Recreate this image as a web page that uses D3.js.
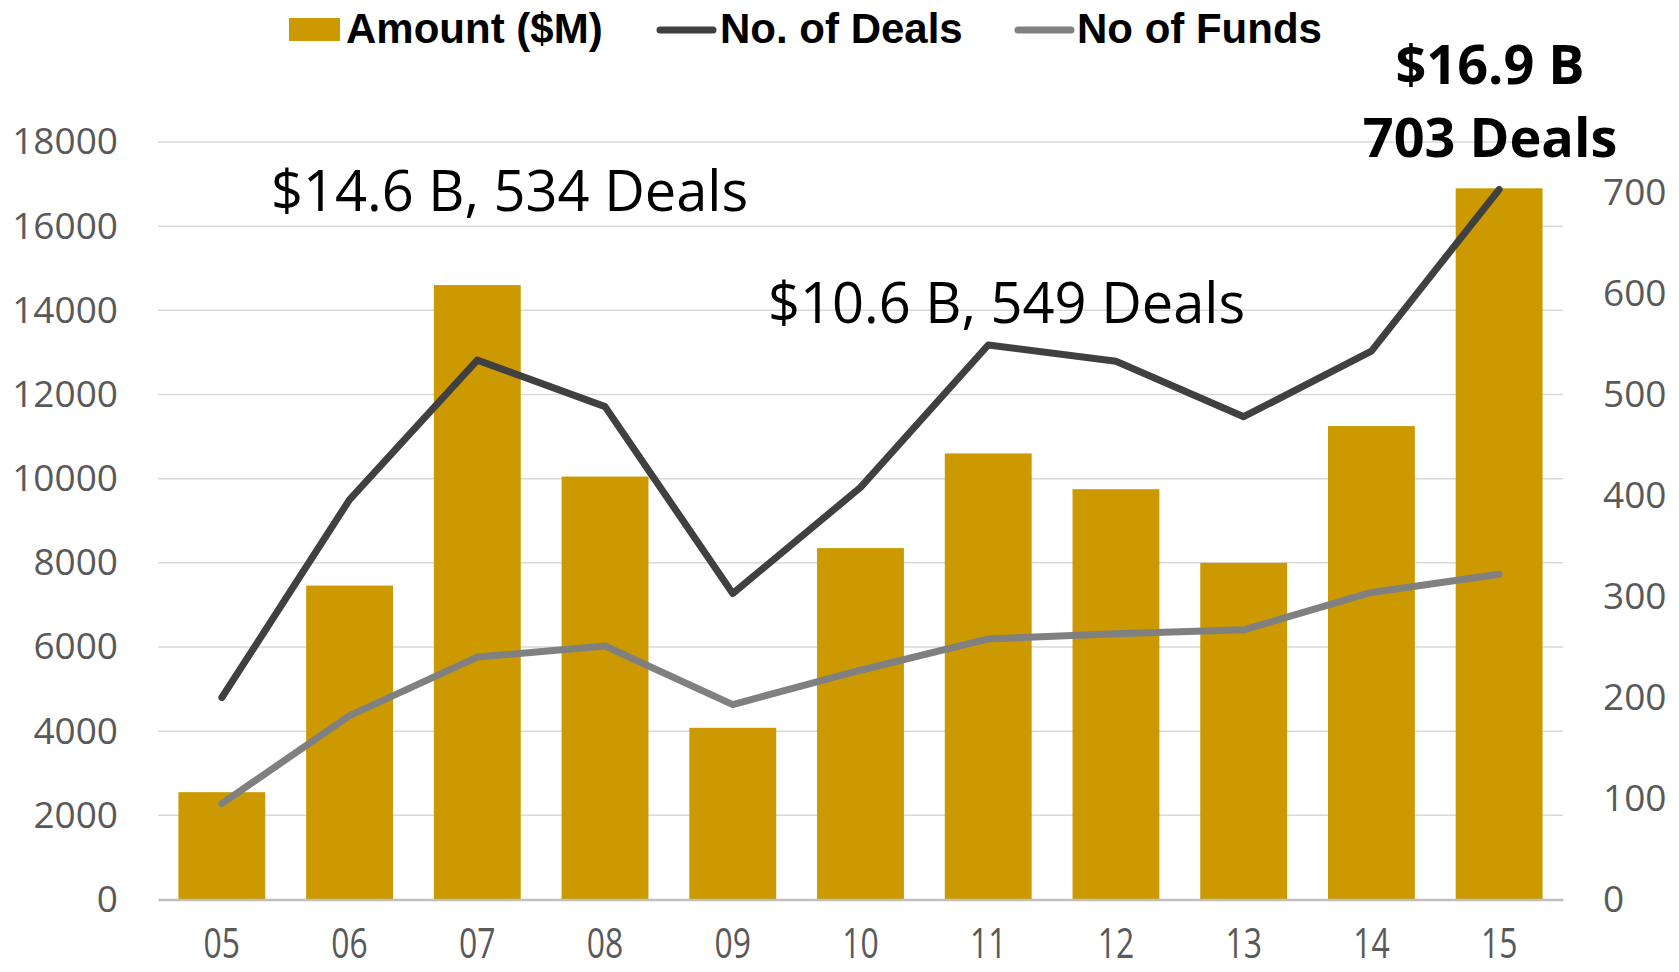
<!DOCTYPE html>
<html>
<head>
<meta charset="utf-8">
<script src="https://cdn.jsdelivr.net/npm/d3@7"></script>
<style>
  body { margin: 0; background: #fff; }
  svg { display: block; }
</style>
</head>
<body>
<div id="chart"></div>
<script>
// Data
var years = ["05", "06", "07", "08", "09", "10", "11", "12", "13", "14", "15"];
var amounts = [2550, 7460, 14600, 10050, 4080, 8350, 10600, 9750, 8000, 11250, 16900];
var deals = [200, 396, 534, 488, 303, 408, 549, 533, 478, 543, 703];
var funds = [95, 182, 240, 251, 193, 227, 258, 263, 267, 304, 322];
var leftTicks = [0, 2000, 4000, 6000, 8000, 10000, 12000, 14000, 16000, 18000];
var rightTicks = [0, 100, 200, 300, 400, 500, 600, 700];

var width = 1679, height = 972;
var plotLeft = 158, plotRight = 1563, plotTop = 142, plotBottom = 899.5;

var svg = d3.select("#chart").append("svg")
    .attr("width", width)
    .attr("height", height);

var x = d3.scaleBand()
    .domain(years)
    .range([plotLeft, plotRight])
    .paddingInner(0.32)
    .paddingOuter(0.16);

var yLeft = d3.scaleLinear().domain([0, 18000]).range([plotBottom, plotTop]);
var yRight = d3.scaleLinear().domain([0, 750]).range([plotBottom, plotTop]);

// gridlines
svg.append("g")
    .selectAll("line")
    .data(leftTicks.slice(1))
    .enter().append("line")
    .attr("x1", plotLeft).attr("x2", plotRight)
    .attr("y1", function (d) { return yLeft(d); })
    .attr("y2", function (d) { return yLeft(d); })
    .attr("stroke", "#d9d9d9")
    .attr("stroke-width", 1.5);

// left axis
var leftAxis = svg.append("g")
    .attr("transform", "translate(" + plotLeft + ",0)")
    .call(d3.axisLeft(yLeft).tickValues(leftTicks).tickFormat(d3.format("d")).tickSize(0).tickPadding(40));
leftAxis.select(".domain").remove();
leftAxis.selectAll("text")
    .attr("font-family", "'Open Sans', sans-serif")
    .attr("font-size", 37)
    .attr("fill", "#595959");

// right axis
var rightAxis = svg.append("g")
    .attr("transform", "translate(" + plotRight + ",0)")
    .call(d3.axisRight(yRight).tickValues(rightTicks).tickSize(0).tickPadding(40));
rightAxis.select(".domain").remove();
rightAxis.selectAll("text")
    .attr("font-family", "'Open Sans', sans-serif")
    .attr("font-size", 37)
    .attr("fill", "#595959");

// bars
svg.append("g")
    .selectAll("rect")
    .data(years)
    .enter().append("rect")
    .attr("x", function (d) { return x(d); })
    .attr("y", function (d, i) { return yLeft(amounts[i]); })
    .attr("width", x.bandwidth())
    .attr("height", function (d, i) { return plotBottom - yLeft(amounts[i]); })
    .attr("fill", "#cc9a00");

// bottom axis, narrow labels like the original
var bottomAxis = svg.append("g")
    .attr("transform", "translate(0," + plotBottom + ")")
    .call(d3.axisBottom(x).tickSize(0));
bottomAxis.select(".domain")
    .attr("stroke", "#bfbfbf")
    .attr("stroke-width", 2.5);
bottomAxis.selectAll("text")
    .attr("y", 59)
    .attr("dy", null)
    .attr("transform", "scale(0.76,1)")
    .attr("font-family", "'Open Sans', sans-serif")
    .attr("font-size", 42)
    .attr("fill", "#595959");

// lines
var cx = function (d, i) { return x(years[i]) + x.bandwidth() / 2; };

svg.append("path")
    .datum(funds)
    .attr("fill", "none")
    .attr("stroke", "#808080")
    .attr("stroke-width", 7)
    .attr("stroke-linecap", "round")
    .attr("stroke-linejoin", "round")
    .attr("d", d3.line().x(cx).y(function (d) { return yRight(d); }));

svg.append("path")
    .datum(deals)
    .attr("fill", "none")
    .attr("stroke", "#404040")
    .attr("stroke-width", 7)
    .attr("stroke-linecap", "round")
    .attr("stroke-linejoin", "round")
    .attr("d", d3.line().x(cx).y(function (d) { return yRight(d); }));

// annotations
var notes = svg.append("g")
    .attr("font-family", "'Open Sans', sans-serif")
    .attr("fill", "#000");

notes.append("text")
    .attr("x", 271).attr("y", 211)
    .attr("font-size", 56)
    .text("$14.6 B, 534 Deals");

notes.append("text")
    .attr("x", 768).attr("y", 323)
    .attr("font-size", 56)
    .text("$10.6 B, 549 Deals");

notes.append("text")
    .attr("x", 1490).attr("y", 84)
    .attr("font-size", 54)
    .attr("font-weight", "bold")
    .attr("text-anchor", "middle")
    .text("$16.9 B");

notes.append("text")
    .attr("x", 1490).attr("y", 157)
    .attr("font-size", 54)
    .attr("font-weight", "bold")
    .attr("text-anchor", "middle")
    .text("703 Deals");

// legend
var legend = svg.append("g")
    .attr("font-family", "'Liberation Sans', Arial, sans-serif")
    .attr("font-weight", "bold")
    .attr("font-size", 42);

legend.append("rect")
    .attr("x", 289).attr("y", 18)
    .attr("width", 51).attr("height", 23)
    .attr("fill", "#cc9a00");
legend.append("text").attr("x", 346).attr("y", 43).text("Amount ($M)");

legend.append("line")
    .attr("x1", 660).attr("x2", 713).attr("y1", 30).attr("y2", 30)
    .attr("stroke", "#404040").attr("stroke-width", 7).attr("stroke-linecap", "round");
legend.append("text").attr("x", 720).attr("y", 43).text("No. of Deals");

legend.append("line")
    .attr("x1", 1018).attr("x2", 1071).attr("y1", 30).attr("y2", 30)
    .attr("stroke", "#808080").attr("stroke-width", 7).attr("stroke-linecap", "round");
legend.append("text").attr("x", 1077).attr("y", 43).text("No of Funds");
</script>
</body>
</html>
